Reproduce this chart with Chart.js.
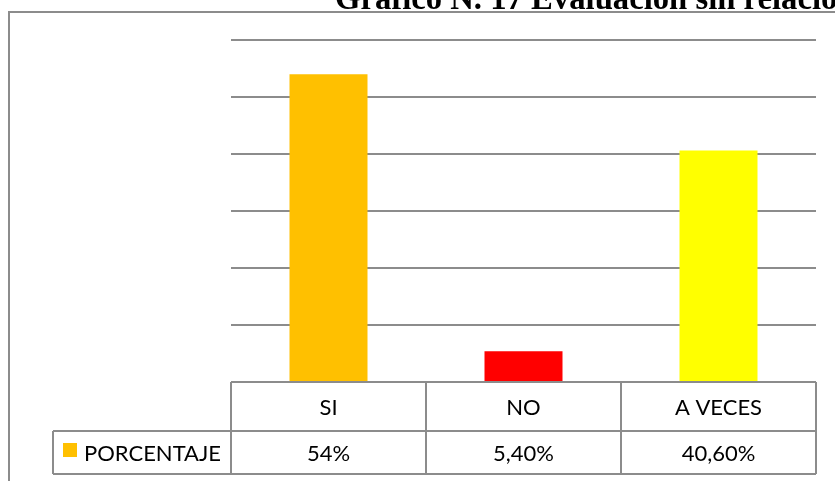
<!DOCTYPE html>
<html>
<head>
<meta charset="utf-8">
<script src="https://cdn.jsdelivr.net/npm/chart.js@4.4.1/dist/chart.umd.min.js"></script>
<style>
  html, body { margin: 0; padding: 0; background: #ffffff; }
  #wrap { width: 835px; height: 481px; }
</style>
</head>
<body>
<div id="wrap"><canvas id="grafico" width="835" height="481"></canvas></div>
<script>
const titleText = "Gráfico N. 17 Evaluación sin relación";
const categories = ["SI", "NO", "A VECES"];
const percentages = [54, 5.4, 40.6];
const valueLabels = ["54%", "5,40%", "40,60%"];
const seriesName = "PORCENTAJE";
const barColors = ["#FFC000", "#FF0000", "#FFFF00"];
const yTicks = [0, 10, 20, 30, 40, 50, 60];

const lineGray = "#8c8c8c";

// frame, title and the data table under the bars
const tablePlugin = {
  id: "tablePlugin",
  afterDraw: function (chart) {
    const ctx = chart.ctx;
    const x = chart.scales.x;
    const area = chart.chartArea;
    const colW = x.getPixelForValue(1) - x.getPixelForValue(0);
    const left = x.getPixelForValue(0) - colW / 2;
    const right = left + colW * categories.length;
    const row1 = area.bottom;
    const row2 = row1 + 49;
    const row3 = row2 + 43;
    const legendLeft = 53;

    ctx.save();
    // outer frame
    ctx.strokeStyle = lineGray;
    ctx.lineWidth = 2;
    ctx.beginPath();
    ctx.moveTo(9, 490);
    ctx.lineTo(9, 12);
    ctx.lineTo(845, 12);
    ctx.stroke();

    // title (cut at the top edge like the reference)
    ctx.fillStyle = "#000000";
    ctx.font = "bold 32.7px 'Liberation Serif', 'Times New Roman', serif";
    ctx.textAlign = "left";
    ctx.textBaseline = "alphabetic";
    ctx.fillText(titleText, 335, 9);

    // table lines
    ctx.strokeStyle = lineGray;
    ctx.lineWidth = 2;
    ctx.beginPath();
    ctx.moveTo(left, row1);
    ctx.lineTo(right, row1);
    ctx.moveTo(legendLeft, row2);
    ctx.lineTo(right, row2);
    ctx.moveTo(legendLeft, row3);
    ctx.lineTo(right, row3);
    ctx.moveTo(legendLeft, row2);
    ctx.lineTo(legendLeft, row3);
    for (let i = 0; i <= categories.length; i++) {
      const px = left + colW * i;
      ctx.moveTo(px, row1);
      ctx.lineTo(px, row3);
    }
    ctx.stroke();

    // texts
    ctx.fillStyle = "#000000";
    ctx.font = "22px Lato, 'Open Sans', sans-serif";
    ctx.textBaseline = "middle";
    ctx.textAlign = "center";
    for (let i = 0; i < categories.length; i++) {
      const cx = x.getPixelForValue(i);
      ctx.fillText(categories[i], cx, (row1 + row2) / 2 + 1);
      ctx.fillText(valueLabels[i], cx, (row2 + row3) / 2 + 1);
    }

    // legend key
    ctx.fillStyle = barColors[0];
    ctx.fillRect(63, 443, 14, 14);
    ctx.fillStyle = "#000000";
    ctx.textAlign = "left";
    ctx.fillText(seriesName, 84, (row2 + row3) / 2 + 1);
    ctx.restore();
  },
};

const grafico = new Chart(document.getElementById("grafico").getContext("2d"), {
  type: "bar",
  data: {
    labels: categories,
    datasets: [
      {
        label: seriesName,
        data: percentages,
        backgroundColor: barColors,
        borderWidth: 0,
        barPercentage: 0.4,
        categoryPercentage: 1.0,
      },
    ],
  },
  options: {
    responsive: false,
    animation: false,
    devicePixelRatio: 1,
    layout: {
      padding: { left: 231, right: 19, top: 40, bottom: 99 },
    },
    plugins: {
      legend: { display: false },
      title: { display: false },
      tooltip: { enabled: false },
    },
    scales: {
      x: {
        display: false,
      },
      y: {
        min: yTicks[0],
        max: yTicks[yTicks.length - 1],
        afterBuildTicks: function (axis) {
          axis.ticks = yTicks.map(function (v) { return { value: v }; });
        },
        grid: { color: lineGray, lineWidth: 2, drawTicks: false },
        border: { display: false },
        ticks: { display: false },
      },
    },
  },
  plugins: [tablePlugin],
});
</script>
</body>
</html>
